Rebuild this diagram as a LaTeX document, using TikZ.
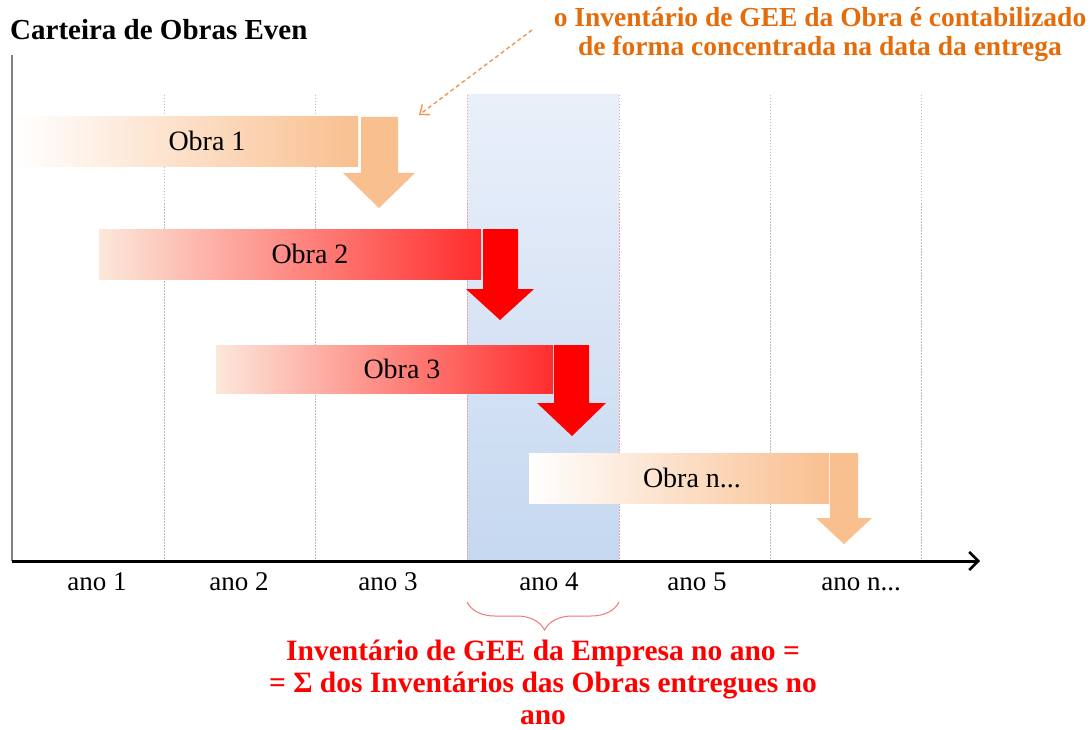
\documentclass[tikz,border=0pt]{standalone}
\usepackage{fontspec}
\setmainfont{Liberation Serif}
\usetikzlibrary{arrows.meta,decorations.pathreplacing}
\definecolor{peach}{RGB}{249,191,143}
\definecolor{peachlight}{RGB}{252,232,218}
\definecolor{pinkmid}{RGB}{251,170,155}
\definecolor{barred}{RGB}{255,45,45}
\definecolor{orangetxt}{RGB}{228,108,10}
\definecolor{dashor}{RGB}{240,150,80}
\definecolor{bracecol}{RGB}{240,120,120}
\definecolor{bandtop}{RGB}{234,240,250}
\definecolor{bandbot}{RGB}{197,216,240}
\definecolor{gridgray}{RGB}{190,190,190}
\definecolor{gridred}{RGB}{240,160,160}
\tikzset{
  gridline/.style={draw=gridgray, line width=0.8pt, dash pattern=on 1.5pt off 1.5pt},
  redgrid/.style={draw=gridred, line width=0.8pt, dash pattern=on 1.5pt off 1.5pt},
  barbox/.style={anchor=north west, inner sep=0pt, outer sep=0pt, minimum height=50pt},
  obralabel/.style={anchor=base, font=\fontsize{28}{30}\selectfont},
  anolabel/.style={anchor=base, font=\fontsize{27}{30}\selectfont},
}
\begin{document}
\begin{tikzpicture}[x=1pt,y=-1pt]
\useasboundingbox (0,0) rectangle (1092,730);
\fill[white] (0,0) rectangle (1092,730);
% blue band
\fill[top color=bandtop, bottom color=bandbot] (467,95) rectangle (619,560);
% grid lines
\foreach \gx in {164,315,770,921} \draw[gridline] (\gx,95) -- (\gx,560);
\foreach \gx in {467,619} \draw[redgrid] (\gx,95) -- (\gx,560);
% Obra 1
\node[barbox, minimum width=344pt, left color=white, right color=peach] (b1) at (14,117) {};
\fill[peach] (361,117) -- (398,117) -- (398,173) -- (415,173) -- (379,208) -- (343,173) -- (361,173) -- cycle;
\node[obralabel] (t1) at (207,151) {Obra 1};
% Obra 2
\node[barbox, minimum width=382pt, left color=peachlight, middle color=pinkmid, right color=barred] (b2) at (99,229) {};
\fill[red] (483,229) -- (518,229) -- (518,289) -- (534,289) -- (500,320) -- (466,289) -- (483,289) -- cycle;
\node[obralabel] (t2) at (310,263) {Obra 2};
% Obra 3
\node[barbox, minimum width=337pt, minimum height=48pt, left color=peachlight, middle color=pinkmid, right color=barred] (b3) at (216,345) {};
\fill[red] (554,345) -- (589,345) -- (589,403) -- (606,403) -- (572,436) -- (537,403) -- (554,403) -- cycle;
\node[obralabel] (t3) at (402,378) {Obra 3};
% Obra n
\node[barbox, minimum width=300pt, left color=white, right color=peach] (bn) at (529,453) {};
\fill[peach] (830,453) -- (858,453) -- (858,518) -- (872,518) -- (844,544) -- (816,518) -- (830,518) -- cycle;
\node[obralabel] (tn) at (692,487) {Obra n...};
% axes
\coordinate (ytop) at (12,55);
\coordinate (orig) at (12,561);
\coordinate (xend) at (980,561);
\draw[draw=gray, line width=2pt] (ytop) -- (orig);
\draw[line width=3pt, -{Straight Barb[length=9pt,width=18pt,line width=2.5pt]}] (orig) -- (xend);
% axis labels
\node[anolabel] (a1) at (97,590) {ano 1};
\node[anolabel] (a2) at (239,590) {ano 2};
\node[anolabel] (a3) at (388,590) {ano 3};
\node[anolabel] (a4) at (549,590) {ano 4};
\node[anolabel] (a5) at (697,590) {ano 5};
\node[anolabel] (an) at (861,590) {ano n...};
% title
\node[anchor=base west, inner sep=0pt, font=\bfseries\fontsize{29}{32}\selectfont] (title) at (10,40) {Carteira de Obras Even};
% orange note
\node[anchor=north, inner sep=0pt, align=center, text=orangetxt, font=\bfseries\fontsize{27.5}{29}\selectfont] (note) at (820,7) {o Inventário de GEE da Obra é contabilizado\\de forma concentrada na data da entrega};
\coordinate (noteend) at (532,30);
\coordinate (arrowtip) at (419,115);
\draw[dashor, line width=1.4pt, dash pattern=on 4pt off 3pt, -{Straight Barb[length=8pt,width=13pt,line width=1.4pt]}] (noteend) -- (arrowtip);
% brace
\coordinate (brR) at (619,602);
\coordinate (brL) at (467,602);
\draw[bracecol, line width=1pt, decorate, decoration={brace, amplitude=28pt, aspect=0.49}] (brR) -- (brL);
% bottom red text
\node[anchor=north, inner sep=0pt, align=center, text=red, font=\bfseries\fontsize{29.5}{32}\selectfont] (sumtxt) at (543,640) {Inventário de GEE da Empresa no ano =\\= Σ dos Inventários das Obras entregues no\\ano};
\end{tikzpicture}
\end{document}
